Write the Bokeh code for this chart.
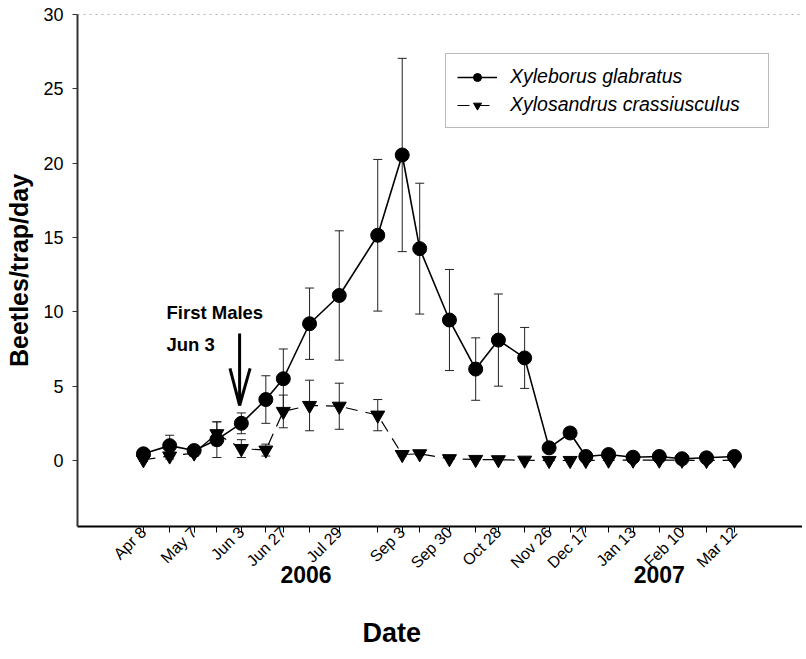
import math
import pandas as pd
from bokeh.plotting import figure
from bokeh.models import (FixedTicker, Whisker, ColumnDataSource, Label, Arrow,
                          Span, Legend, LegendItem, TeeHead, Range1d, LinearAxis)
from bokeh.embed import file_html
from bokeh.resources import INLINE

# ---------------- data ----------------
dates = ["2006-04-08", "2006-04-23", "2006-05-07", "2006-05-20", "2006-06-03",
         "2006-06-17", "2006-06-27", "2006-07-12", "2006-07-29", "2006-08-20",
         "2006-09-03", "2006-09-13", "2006-09-30", "2006-10-15", "2006-10-28",
         "2006-11-12", "2006-11-26", "2006-12-08", "2006-12-17", "2006-12-30",
         "2007-01-13", "2007-01-28", "2007-02-10", "2007-02-24", "2007-03-12"]
glabratus = [0.45, 1.0, 0.67, 1.4, 2.5, 4.1, 5.5, 9.2, 11.1, 15.15,
             20.55, 14.25, 9.45, 6.15, 8.1, 6.9, 0.85, 1.85, 0.27, 0.4,
             0.22, 0.27, 0.12, 0.18, 0.27]
glabratus_se = [0.2, 0.7, 0.3, 1.2, 0.7, 1.6, 2.0, 2.4, 4.35, 5.1,
                6.5, 4.4, 3.4, 2.1, 3.1, 2.05, 0.15, 0.35, 0.1, 0.1,
                0.05, 0.05, 0.05, 0.05, 0.05]
crassiusculus = [0.05, 0.3, 0.5, 1.8, 0.8, 0.7, 3.3, 3.7, 3.65, 3.05,
                 0.4, 0.45, 0.12, 0.07, 0.05, 0.02, 0.0, 0.0, 0.0, 0.02,
                 0.02, 0.02, 0.02, 0.0, 0.02]
crassiusculus_se = [0.1, 0.2, 0.2, 0.8, 0.6, 0.4, 1.1, 1.7, 1.55, 1.05,
                    0.1, 0.1, 0.05, 0.05, 0.03, 0.02, 0.02, 0.02, 0.02, 0.02,
                    0.02, 0.02, 0.02, 0.02, 0.02]
labeled_dates = ["2006-04-08", "2006-05-07", "2006-06-03", "2006-06-27", "2006-07-29",
                 "2006-09-03", "2006-09-30", "2006-10-28", "2006-11-26", "2006-12-17",
                 "2007-01-13", "2007-02-10", "2007-03-12"]
year_labels = ["2006", "2007"]
year_label_dates = ["2006-07-10", "2007-01-28"]
x_title = "Date"
x_title_date = "2006-08-28"
first_males_date = "2006-06-03"
y_ticks = [0, 5, 10, 15, 20, 25, 30]

# ---------------- derived ----------------
origin = pd.Timestamp(dates[0])


def day_of(d):
    return int((pd.Timestamp(d) - origin).days)


days = [day_of(d) for d in dates]
lab_days = {day_of(d): pd.Timestamp(d).strftime("%b ") + str(pd.Timestamp(d).day)
            for d in labeled_dates}
overrides = {d: lab_days.get(d, "") for d in days}
year_days = [day_of(d) for d in year_label_dates]
title_day = day_of(x_title_date)

src = ColumnDataSource(dict(
    x=days,
    g=glabratus,
    g_lo=[v - e for v, e in zip(glabratus, glabratus_se)],
    g_hi=[v + e for v, e in zip(glabratus, glabratus_se)],
    c=crassiusculus,
    c_lo=[v - e for v, e in zip(crassiusculus, crassiusculus_se)],
    c_hi=[v + e for v, e in zip(crassiusculus, crassiusculus_se)],
))

FONT = "Liberation Sans"

p = figure(width=802, height=659, output_backend="svg", toolbar_location=None,
           x_range=Range1d(-37.7, 376.9), y_range=Range1d(-4.44, 30),
           min_border_left=77, min_border_right=0, min_border_top=14, min_border_bottom=133)
p.grid.visible = False
p.outline_line_color = None
p.background_fill_color = "white"

# main x axis
p.xaxis.ticker = FixedTicker(ticks=days)
p.xaxis.major_label_overrides = overrides
p.xaxis.major_label_orientation = math.pi / 4
p.xaxis.major_label_text_font = FONT
p.xaxis.major_label_text_font_size = "16px"
p.xaxis.major_label_text_color = "black"
p.xaxis.major_label_standoff = -3
p.xaxis.major_tick_out = 6
p.xaxis.major_tick_in = 0
p.xaxis.minor_tick_out = 0
p.xaxis.axis_line_color = "black"
p.xaxis.axis_line_width = 2
p.xaxis.major_tick_line_color = "black"


def label_axis(ticks, labels, size, standoff):
    return LinearAxis(ticker=FixedTicker(ticks=ticks),
                      major_label_overrides=dict(zip(ticks, labels)),
                      axis_line_color=None, major_tick_line_color=None,
                      minor_tick_line_color=None, major_tick_out=0, major_tick_in=0,
                      major_label_orientation="horizontal",
                      major_label_text_font=FONT, major_label_text_font_style="bold",
                      major_label_text_font_size=size, major_label_text_color="black",
                      major_label_standoff=standoff)


# year row and x title row below the date axis
p.add_layout(label_axis(year_days, year_labels, "23px", -15), "below")
p.add_layout(label_axis([title_day], [x_title], "27px", 32), "below")

# y axis
p.yaxis.ticker = FixedTicker(ticks=y_ticks)
p.yaxis.major_label_text_font = FONT
p.yaxis.major_label_text_font_size = "18px"
p.yaxis.major_label_text_color = "black"
p.yaxis.major_label_standoff = 9
p.yaxis.major_tick_out = 5
p.yaxis.major_tick_in = 0
p.yaxis.minor_tick_out = 0
p.yaxis.axis_line_color = "#333333"
p.yaxis.axis_line_width = 2
p.yaxis.major_tick_line_color = "#333333"
p.yaxis.axis_label = "Beetles/trap/day"
p.yaxis.axis_label_text_font = FONT
p.yaxis.axis_label_text_font_style = "bold"
p.yaxis.axis_label_text_font_size = "25px"
p.yaxis.axis_label_text_color = "black"
p.yaxis.axis_label_standoff = 7

# top dotted border
p.add_layout(Span(location=30, dimension="width", line_color="#666666",
                  line_dash="dotted", line_width=1))

# error bars
for lo, hi in (("c_lo", "c_hi"), ("g_lo", "g_hi")):
    w = Whisker(base="x", lower=lo, upper=hi, source=src, level="underlay",
                line_color="#222222", line_width=1,
                upper_head=TeeHead(size=9, line_color="#222222", line_width=1),
                lower_head=TeeHead(size=9, line_color="#222222", line_width=1))
    p.add_layout(w)

# series
c_line = p.line("x", "c", source=src, line_color="black", line_width=1.2, line_dash="12 8")
c_pts = p.scatter("x", "c", source=src, marker="inverted_triangle", size=14,
                  fill_color="black", line_color="black")
g_line = p.line("x", "g", source=src, line_color="black", line_width=1.6)
g_pts = p.scatter("x", "g", source=src, marker="circle", size=14,
                  fill_color="black", line_color="black")

legend = Legend(items=[LegendItem(label="Xyleborus glabratus", renderers=[g_line, g_pts]),
                       LegendItem(label="Xylosandrus crassiusculus", renderers=[c_line, c_pts])],
                location=(368, 398), orientation="vertical",
                label_text_font=FONT, label_text_font_style="italic",
                label_text_font_size="19.5px", label_text_color="black",
                glyph_width=40, glyph_height=20, label_standoff=13, label_width=247,
                spacing=5, padding=11, margin=0,
                border_line_color="#777777", border_line_width=1,
                background_fill_color="white", background_fill_alpha=1)
p.add_layout(legend)

# annotation: first males
fm_day = day_of(first_males_date) - 1
p.add_layout(Label(x=89, y=214, x_units="screen", y_units="screen", text="First Males",
                   text_font=FONT, text_font_style="bold", text_font_size="18.5px",
                   text_baseline="middle", text_align="left", text_color="black"))
p.add_layout(Label(x=89, y=182, x_units="screen", y_units="screen", text="Jun 3",
                   text_font=FONT, text_font_style="bold", text_font_size="18.5px",
                   text_baseline="middle", text_align="left", text_color="black"))
tip_y, top_y = 3.7, 8.55
p.add_layout(Arrow(x_start=fm_day, y_start=top_y, x_end=fm_day, y_end=tip_y, end=None,
                   line_width=3, line_color="black"))
for dx in (-5.5, 6.0):
    p.add_layout(Arrow(x_start=fm_day, y_start=tip_y, x_end=fm_day + dx, y_end=tip_y + 2.5,
                       end=None, line_width=3, line_color="black"))

open("out.html", "w").write(file_html(p, INLINE))
